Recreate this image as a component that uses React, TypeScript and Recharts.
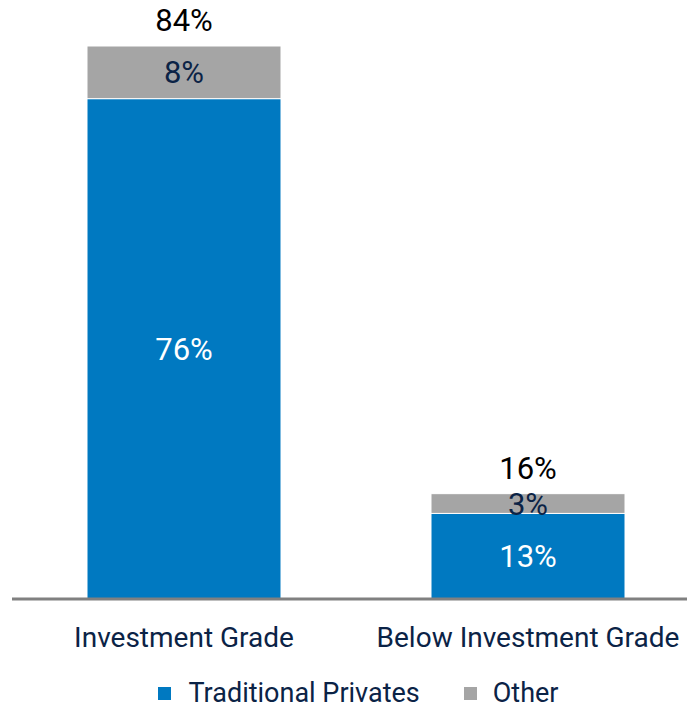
import React from 'react';
import { Bar, BarChart, LabelList, XAxis, YAxis } from 'recharts';

const categories = ['Investment Grade', 'Below Investment Grade'];
const traditionalPrivates = [76, 13];
const other = [8, 3];

const BLUE = '#0079C1';
const GREY = '#A5A5A5';
const NAVY = '#0B2346';
const FONT = 'Roboto, sans-serif';

const data = categories.map((name, i) => ({
    name,
    traditional: traditionalPrivates[i],
    other: other[i],
    total: traditionalPrivates[i] + other[i],
}));

const CategoryTick = (props: any) => {
    const { x, y, payload } = props;
    return (
        <text
            x={x}
            y={y + 33}
            textAnchor="middle"
            dominantBaseline="middle"
            fill={NAVY}
            fontSize={28}
            fontFamily={FONT}
        >
            {payload.value}
        </text>
    );
};

const TotalLabel = (props: any) => {
    const { x, y, width, index } = props;
    return (
        <text
            x={x + width / 2}
            y={y - 23}
            textAnchor="middle"
            dominantBaseline="middle"
            fill="#000"
            fontSize={31}
            fontFamily={FONT}
        >
            {data[index].total}%
        </text>
    );
};

// legend drawn as plain html under the chart
const ChartLegend = () => (
    <div
        style={{
            position: 'absolute',
            left: 0,
            top: 678,
            width: 687,
            height: 31,
            boxSizing: 'border-box',
            paddingLeft: 30,
            display: 'flex',
            justifyContent: 'center',
            alignItems: 'center',
            fontFamily: FONT,
            fontSize: 27,
            lineHeight: '31px',
            color: NAVY,
            whiteSpace: 'nowrap',
        }}
    >
        <span style={{ width: 13, height: 13, background: BLUE, marginRight: 17 }} />
        <span style={{ marginRight: 44 }}>Traditional Privates</span>
        <span style={{ width: 13, height: 13, background: GREY, marginRight: 16 }} />
        <span>Other</span>
    </div>
);

const App = () => {
    return (
        <div style={{ position: 'absolute', left: 0, top: 0, width: 687, height: 709, overflow: 'hidden' }}>
            <BarChart
                width={700}
                height={709}
                data={data}
                margin={{ top: 46, right: 0, bottom: 50, left: 12 }}
                barSize={194}
            >
                <XAxis
                    dataKey="name"
                    axisLine={{ stroke: '#808080', strokeWidth: 3 }}
                    tickLine={false}
                    tick={<CategoryTick />}
                    height={60}
                    interval={0}
                />
                <YAxis hide domain={[0, 84]} />
                <Bar
                    dataKey="traditional"
                    stackId="a"
                    fill={BLUE}
                    stroke="#fff"
                    strokeWidth={1}
                    isAnimationActive={false}
                >
                    <LabelList
                        dataKey="traditional"
                        position="center"
                        formatter={(v: any) => `${v}%`}
                        fill="#fff"
                        fontSize={31}
                        fontFamily={FONT}
                    />
                </Bar>
                <Bar
                    dataKey="other"
                    stackId="a"
                    fill={GREY}
                    stroke="#fff"
                    strokeWidth={1}
                    isAnimationActive={false}
                >
                    <LabelList
                        dataKey="other"
                        position="center"
                        formatter={(v: any) => `${v}%`}
                        fill={NAVY}
                        fontSize={31}
                        fontFamily={FONT}
                    />
                    <LabelList dataKey="total" content={<TotalLabel />} />
                </Bar>
            </BarChart>
            <ChartLegend />
        </div>
    );
};

export default App;
